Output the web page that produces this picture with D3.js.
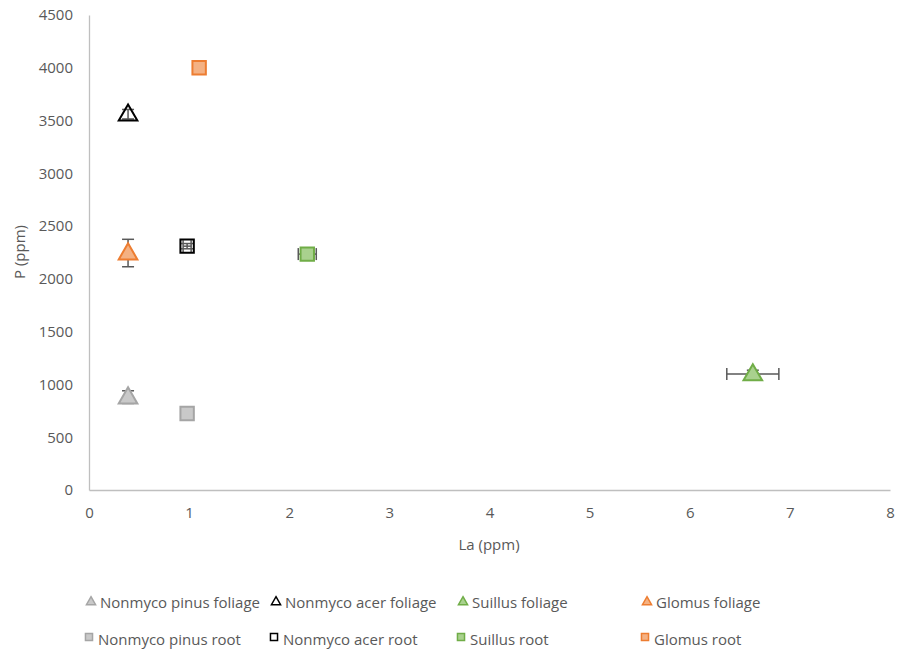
<!DOCTYPE html>
<html>
<head>
<meta charset="utf-8">
<script src="https://cdn.jsdelivr.net/npm/d3@7"></script>
<style>
  html, body { margin: 0; padding: 0; background: #fff; }
  svg { display: block; font-family: "Open Sans", sans-serif; }
</style>
</head>
<body>
<svg id="chart" width="898" height="652"></svg>
<script>
// Series definitions (La vs P, ppm)
const seriesNames = [
  "Nonmyco pinus foliage", "Nonmyco acer foliage", "Suillus foliage", "Glomus foliage ",
  "Nonmyco pinus root", "Nonmyco acer root", "Suillus root ", "Glomus root "
];
const seriesShape = ["triangle", "triangle", "triangle", "triangle", "square", "square", "square", "square"];
const laValues = [0.39, 0.39, 6.63, 0.39, 0.98, 0.98, 2.18, 1.1];
const pValues = [880, 3560, 1100, 2245, 725, 2310, 2235, 4000];
const laError = [0, 0, 0.26, 0, 0, 0.04, 0.09, 0];
const pError = [60, 45, 35, 130, 0, 25, 0, 0];
const xTicks = [0, 1, 2, 3, 4, 5, 6, 7, 8];
const yTicks = [0, 500, 1000, 1500, 2000, 2500, 3000, 3500, 4000, 4500];

const fills = ["#c9c9c9", "none", "#a9d18e", "#f4b183", "#c9c9c9", "none", "#a9d18e", "#f4b183"];
const strokes = ["#a5a5a5", "#000000", "#70ad47", "#ed7d31", "#a5a5a5", "#000000", "#70ad47", "#ed7d31"];

const svg = d3.select("#chart");
const x = d3.scaleLinear().domain([0, 8]).range([89, 890]);
const y = d3.scaleLinear().domain([0, 4500]).range([490, 15]);

// Axes: plain gray lines, no tick marks
const xAxis = svg.append("g").attr("transform", `translate(0,${y(0)})`)
  .call(d3.axisBottom(x).tickValues(xTicks).tickFormat(d3.format("d")).tickSize(0).tickPadding(17));
const yAxis = svg.append("g").attr("transform", `translate(${x(0)},0)`)
  .call(d3.axisLeft(y).tickValues(yTicks).tickFormat(d3.format("d")).tickSize(0).tickPadding(16));
[xAxis, yAxis].forEach(g => {
  g.select(".domain").attr("stroke", "#bfbfbf").attr("stroke-width", 1.3);
  g.selectAll("text").attr("fill", "#595959").style("font-size", "15px")
    .style("font-family", "'Open Sans', sans-serif");
});

// Axis titles
svg.append("text").attr("x", 489).attr("y", 550).attr("text-anchor", "middle")
  .attr("fill", "#595959").style("font-size", "15px").text("La (ppm)");
svg.append("text").attr("transform", "translate(25,252) rotate(-90)").attr("text-anchor", "middle")
  .attr("fill", "#595959").style("font-size", "15px").text("P (ppm)");

const sym = {
  triangle: s => d3.symbol().type(d3.symbolTriangle).size(s)(),
  square: s => d3.symbol().type(d3.symbolSquare).size(s)()
};

const data = seriesNames.map((name, i) => ({
  name, shape: seriesShape[i], la: laValues[i], p: pValues[i],
  ex: laError[i], ey: pError[i], fill: fills[i], stroke: strokes[i]
}));

// Error bars sit behind the markers
const eb = svg.append("g").attr("stroke", "#595959").attr("stroke-width", 1.5).attr("fill", "none");
data.forEach(d => {
  const cx = x(d.la), cy = y(d.p);
  if (d.ey > 0) {
    const y1 = y(d.p + d.ey), y2 = y(d.p - d.ey);
    eb.append("line").attr("x1", cx).attr("x2", cx).attr("y1", y1).attr("y2", y2);
    eb.append("line").attr("x1", cx - 6).attr("x2", cx + 6).attr("y1", y1).attr("y2", y1);
    eb.append("line").attr("x1", cx - 6).attr("x2", cx + 6).attr("y1", y2).attr("y2", y2);
  }
  if (d.ex > 0) {
    const x1 = x(d.la - d.ex), x2 = x(d.la + d.ex);
    eb.append("line").attr("x1", x1).attr("x2", x2).attr("y1", cy).attr("y2", cy);
    eb.append("line").attr("x1", x1).attr("x2", x1).attr("y1", cy - 6).attr("y2", cy + 6);
    eb.append("line").attr("x1", x2).attr("x2", x2).attr("y1", cy - 6).attr("y2", cy + 6);
  }
});

// Markers
const pts = svg.append("g").selectAll("g").data(data).join("g")
  .attr("transform", d => `translate(${x(d.la)},${y(d.p)})`);
pts.append("path")
  .attr("d", d => d.shape === "triangle" ? sym.triangle(150) : sym.square(180))
  .attr("transform", d => d.shape === "triangle" ? "translate(0,1)" : null)
  .attr("fill", d => d.fill).attr("stroke", d => d.stroke).attr("stroke-width", 2);

// Legend: two rows of four entries
const legendCols = [91, 276, 463, 647];
const legendRows = [603, 640];
const legend = svg.append("g").selectAll("g").data(data).join("g")
  .attr("transform", (d, i) => `translate(${legendCols[i % 4] - (i >= 4 ? 2 : 0)},${legendRows[Math.floor(i / 4)]})`);
legend.append("path")
  .attr("d", d => d.shape === "triangle" ? sym.triangle(36) : sym.square(50))
  .attr("transform", d => d.shape === "triangle" ? "translate(0,-1)" : "translate(0,-3)")
  .attr("fill", d => d.fill === "none" ? "#fff" : d.fill).attr("stroke", d => d.stroke).attr("stroke-width", 1.5);
legend.append("text").attr("x", 9).attr("y", 5)
  .attr("fill", "#595959").style("font-size", "15px").text(d => d.name);
</script>
</body>
</html>
